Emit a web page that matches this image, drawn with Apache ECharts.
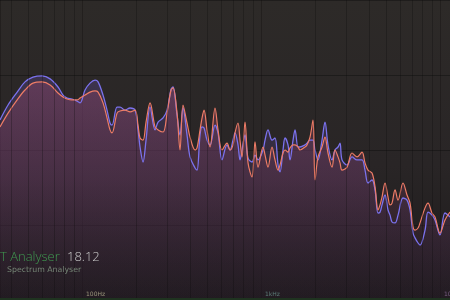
<!DOCTYPE html>
<html><head><meta charset="utf-8">
<script src="https://cdn.jsdelivr.net/npm/echarts@6/dist/echarts.min.js"></script>
<style>html,body{margin:0;padding:0;background:#222;}#c{width:450px;height:300px;}</style>
</head><body><div id="c"></div>
<script>
// frequencies (Hz)
var freqs = [
 34.8,38.6,43.4,48.0,53.2,59.8,66.3,73.4,78.3,82.5,
 87.9,93.8,97.5,103.9,110.8,118.2,122.9,131.0,137.9,143.3,
 147.1,156.9,163.1,173.9,185.4,197.8,205.5,210.9,219.2,227.8,
 239.9,255.8,265.9,283.6,298.6,314.2,322.4,339.4,352.7,366.6,
 386.0,401.2,427.9,439.1,456.3,468.3,480.5,499.3,519.0,553.4,
 575.2,605.5,645.7,671.0,697.4,715.5,743.7,763.1,783.0,814.0,
 846.0,890.8,925.8,962.1,1026,1053,1094,1152,1197,1245,
 1277,1327,1362,1415,1452,1510,1549,1610,1651,1762,
 1807,1878,1952,2003,2082,2192,2278,2367,2493,2590,
 2693,2763,2835,3023,3224,3438,3667,3811,3960,4170,
 4335,4505,4623,4743,4930,5124,5258,5395,5608,5829,
 6214,6542,6801,7069,7253,7539,7735,8248,8571,9022,
 9377,10000,10664,11373
];
// red channel level (dB)
var redLevels = [
 -42.3,-37.7,-33.3,-30,-27.7,-27.3,-28.3,-31,-32.3,-33,
 -33.3,-33.3,-32.7,-31.7,-30.7,-30.3,-30.7,-34.3,-39.3,-43.3,
 -44.3,-37.7,-37,-36.7,-37.3,-36.7,-41.7,-46,-46.7,-40.7,
 -34.3,-42.3,-43.3,-44,-37.7,-30,-29.3,-37.7,-50,-35,
 -41,-45.7,-50,-49.3,-43.3,-39.3,-36.7,-43.3,-49,-36,
 -43.3,-50,-47.7,-50,-48.3,-44.3,-41,-46.7,-52.3,-40.7,
 -54.3,-59,-47.3,-55.7,-49,-51.7,-55.7,-49,-53.3,-56.7,
 -55,-51,-50,-50.7,-49.3,-48.3,-48.3,-49,-50,-49,
 -48.3,-45.7,-40,-60,-52.3,-49,-45.7,-51,-55.7,-50,
 -52.3,-54.3,-56.7,-55.7,-51,-52.3,-50.7,-54.3,-56.7,-57.7,
 -62.3,-70,-68.3,-65.7,-61,-65.7,-68.3,-67.7,-63.3,-66.7,
 -61,-65,-67.7,-75.7,-76.7,-76,-74.3,-69.3,-67.7,-71,
 -72.3,-77.7,-73.3,-70.7
];
// blue channel level (dB)
var blueLevels = [
 -40,-35,-30.7,-27.3,-25.7,-25.3,-26.3,-29,-31.7,-32.7,
 -33,-33.7,-34.3,-30,-27.7,-26.7,-27.3,-31.7,-36.7,-41,
 -41.7,-35.7,-35.7,-36.7,-36,-36.7,-43.3,-49,-54,-46.7,
 -35.7,-43.3,-40.7,-39.3,-36.7,-29.7,-29,-38.3,-45,-36,
 -45,-52.3,-56,-56.7,-45,-42.3,-42.7,-46.7,-48.3,-41.7,
 -44.3,-53.3,-48.3,-50,-46.7,-44.3,-48.3,-53.3,-50,-45,
 -52.7,-54,-51.7,-53.3,-50,-46.7,-43.3,-46.7,-46,-55,
 -57.3,-50,-46,-48.3,-53.3,-46.7,-43.3,-49,-49,-48.3,
 -47.7,-46.7,-46.7,-50,-53.3,-46.7,-40.7,-48.3,-53.3,-50,
 -49,-47.7,-53.3,-55,-52.3,-53.3,-53.3,-56.7,-61,-60,
 -63.3,-71,-70.7,-68.3,-65,-70,-71.7,-74,-74.3,-71.7,
 -66,-66.7,-70,-77.7,-79.3,-81,-81.7,-76.7,-70.7,-71.7,
 -73.3,-78.3,-71,-72.3
];
// grid frequencies
var gridFreqs = [40,50,60,70,80,90,200,300,400,500,600,700,800,900,2000,3000,4000,5000,6000,7000,8000,9000];
var decadeLabels = {100:'100Hz',1000:'1kHz',10000:'10kHz'};
var labelColors = {100:'#c9c99a',1000:'#6fa596',10000:'#9a7aa8'};

var chart = echarts.init(document.getElementById('c'), null, {renderer:'canvas'});
function zip(a,b){return a.map(function(v,i){return [v,b[i]];});}
var G = echarts.graphic.LinearGradient;
chart.setOption({
  animation:false,
  backgroundColor: new G(0,0,0,1,[{offset:0,color:'#2d2a28'},{offset:0.55,color:'#292526'},{offset:1,color:'#1c1a1a'}]),
  grid:{left:0,right:0,top:0,bottom:0,containLabel:false,outerBoundsMode:'none'},
  xAxis:{type:'log',logBase:10,min:34.8,max:11373,
    axisLine:{show:false},axisTick:{show:false},
    splitLine:{show:true,lineStyle:{color:'rgba(12,10,10,0.3)',width:1}},
    axisLabel:{inside:true,margin:3,fontSize:6,fontFamily:'DejaVu Sans',align:'left',padding:[0,0,0,4],
      showMinLabel:false,showMaxLabel:false,hideOverlap:false,
      formatter:function(v){var k=Math.round(v);return decadeLabels[k]?'{l'+k+'|'+decadeLabels[k]+'}':'';},
      rich:{l100:{color:labelColors[100],fontSize:6},l1000:{color:labelColors[1000],fontSize:6},l10000:{color:labelColors[10000],fontSize:6}}
    }},
  yAxis:{type:'value',min:-100,max:0,interval:25,
    axisLine:{show:false},axisTick:{show:false},axisLabel:{show:false},
    splitLine:{show:true,lineStyle:{color:'rgba(10,10,10,0.4)',width:1}}},
  graphic:[
    {type:'rect',left:0,bottom:0,shape:{width:450,height:2},style:{fill:'#1f3320'},z:10},
    {type:'text',left:0,top:251,style:{text:'T Analyser',fill:'#3f9a50',fontSize:13,fontFamily:'Open Sans',fontWeight:300},z:10},
    {type:'text',left:67,top:251,style:{text:'18.12',fill:'#c8c8c8',fontSize:13,fontFamily:'Open Sans',fontWeight:300},z:10},
    {type:'text',left:7,top:266,style:{text:'Spectrum Analyser',fill:'#748474',fontSize:7.8,fontFamily:'DejaVu Sans'},z:10}
  ],
  series:[
    {type:'line',name:'grid',data:[],silent:true,
      markLine:{silent:true,symbol:'none',label:{show:false},
        lineStyle:{color:'rgba(12,10,10,0.28)',width:1,type:'solid'},
        data:gridFreqs.map(function(f){return {xAxis:f};})}},
    {type:'line',name:'Blue',data:zip(freqs,blueLevels),smooth:0.35,symbol:'none',
      lineStyle:{color:'#7b72ee',width:1.3},
      areaStyle:{origin:'start',color:new G(0,0,0,300,[{offset:0,color:'rgba(120,95,210,0.5)'},{offset:1,color:'rgba(50,35,70,0.2)'}],true)}},
    {type:'line',name:'Red',data:zip(freqs,redLevels),smooth:0.35,symbol:'none',
      lineStyle:{color:'#ee7c66',width:1.2},
      areaStyle:{origin:'start',color:new G(0,0,0,300,[{offset:0,color:'rgba(170,80,115,0.7)'},{offset:0.6,color:'rgba(110,55,85,0.5)'},{offset:1,color:'rgba(45,28,38,0.3)'}],true)}}
  ]
});
</script></body></html>
